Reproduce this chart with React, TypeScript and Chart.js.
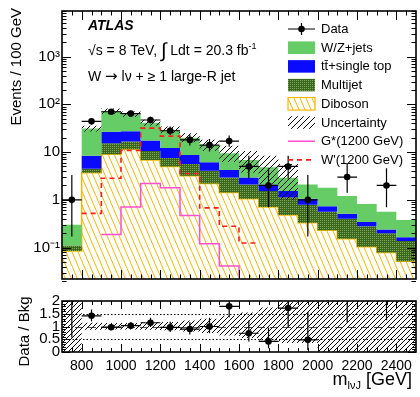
import { useEffect, useRef } from 'react';
import { Chart, registerables } from 'chart.js';

Chart.register(...registerables);

const FONT = '"Liberation Sans", Arial, Helvetica, sans-serif';

// ---- binning ----
const binLow = [700, 800, 900, 1000, 1100, 1200, 1300, 1400, 1500, 1600, 1700, 1800, 1900, 2000, 2100, 2200, 2300, 2400];
const binWidth = 100;
const xMin = 700;
const xMax = 2500;

// ---- data ----
const dataCounts = [1, 44, 70, 64, 47, 28, 18, 14, 17, 5, 2, 5, 1, null, 3, null, 2, null];
const dataErrUp = [2.3, 7.7, 9.4, 9.0, 7.9, 6.3, 5.3, 4.8, 5.2, 3.4, 2.6, 3.4, 2.3, null, 2.9, null, 2.6, null];
const dataErrDown = [0.83, 6.6, 8.4, 8.0, 6.8, 5.3, 4.2, 3.7, 4.1, 2.2, 1.3, 2.2, 0.83, null, 1.6, null, 1.3, null];

// ---- backgrounds (stacked, bottom to top) ----
const diboson = [0.085, 3.7, 9.0, 11.5, 6.8, 5.0, 3.2, 2.2, 1.42, 1.05, 0.71, 0.48, 0.33, 0.23, 0.153, 0.104, 0.079, 0.052];
const multijet = [0.025, 0.8, 6.4, 5.2, 3.7, 2.5, 2.4, 1.85, 1.52, 1.05, 0.83, 0.65, 0.46, 0.33, 0.247, 0.176, 0.121, 0.085];
const ttbarSingleTop = [0.0, 3.9, 11.1, 10.5, 7.0, 4.7, 3.1, 2.05, 1.26, 0.84, 0.56, 0.41, 0.26, 0.17, 0.11, 0.065, 0.04, 0.028];
const wzJets = [0.19, 22.6, 45.5, 34.8, 23.5, 16.8, 11.3, 7.9, 5.3, 3.86, 2.7, 1.36, 1.05, 1.07, 0.69, 0.475, 0.32, 0.215];

// relative background uncertainty
const uncUp = [2.3, 0.15, 0.14, 0.14, 0.16, 0.18, 0.24, 0.3, 0.42, 0.55, 0.75, 0.95, 1.2, 1.5, 1.6, 1.7, 1.8, 1.9];
const uncDown = [1.0, 0.13, 0.12, 0.12, 0.13, 0.15, 0.2, 0.25, 0.35, 0.45, 0.55, 0.65, 0.65, 1.0, 1.0, 1.0, 1.0, 1.0];

// ---- signals ----
const gStar = [0, 0, 0.187, 0.71, 2.19, 1.79, 0.47, 0.12, 0.041, 0.024, 0, 0, 0, 0, 0, 0, 0, 0];
const wPrime = [0, 0.52, 2.84, 10.8, 31.8, 21.6, 3.57, 0.68, 0.28, 0.125, 0.125, 0, 0, 0, 0, 0, 0, 0];

// ---- ticks ----
const xTickValues = [800, 1000, 1200, 1400, 1600, 1800, 2000, 2200, 2400];
const xTickLabels = ['800', '1000', '1200', '1400', '1600', '1800', '2000', '2200', '2400'];
const mainYTicks = [0.1, 1, 10, 100, 1000];
const mainYLabels = ['10\u207B\u00B9', '1', '10', '10\u00B2', '10\u00B3'];
const ratioYTicks = [0, 0.5, 1, 1.5, 2];
const ratioYLabels = ['0', '0.5', '1', '1.5', '2'];

const legendLabels = ['Data', 'W/Z+jets', 'tt\u0304+single top', 'Multijet', 'Diboson', 'Uncertainty', 'G*(1200 GeV)', "W'(1200 GeV)"];

const COLORS = {
  wz: '#66cc66',
  tt: '#0a0aff',
  mjDark: '#3a671b',
  mjLight: '#7da85b',
  dib: '#f4b800',
  gstar: '#ff4fd0',
  wprime: '#ff1a1a',
};

function hatchPattern(ctx: CanvasRenderingContext2D, w: number, h: number, color: string, lw: number, dir: 'back' | 'fwd', bg?: string) {
  const c = document.createElement('canvas');
  c.width = w;
  c.height = h;
  const g = c.getContext('2d')!;
  if (bg) {
    g.fillStyle = bg;
    g.fillRect(0, 0, w, h);
  }
  g.strokeStyle = color;
  g.lineWidth = lw;
  g.beginPath();
  for (const off of [-w, 0, w]) {
    if (dir === 'back') {
      g.moveTo(off, 0);
      g.lineTo(off + w, h);
    } else {
      g.moveTo(off, h);
      g.lineTo(off + w, 0);
    }
  }
  g.stroke();
  return ctx.createPattern(c, 'repeat')!;
}

function dotPattern(ctx: CanvasRenderingContext2D) {
  const c = document.createElement('canvas');
  c.width = 4;
  c.height = 4;
  const g = c.getContext('2d')!;
  g.fillStyle = COLORS.mjDark;
  g.fillRect(0, 0, 4, 4);
  g.fillStyle = COLORS.mjLight;
  g.fillRect(0, 0, 1, 1);
  g.fillRect(2, 2, 1, 1);
  g.fillRect(2, 0, 1, 1);
  g.fillRect(0, 2, 1, 1);
  return ctx.createPattern(c, 'repeat')!;
}

type Part = { t: string; size: number; dy?: number; style?: string; family?: string };
function richText(ctx: CanvasRenderingContext2D, x: number, y: number, parts: Part[], align: 'left' | 'right' = 'left') {
  const fontOf = (p: Part) => `${p.style || ''} ${p.size}px ${p.family || FONT}`;
  let w = 0;
  for (const p of parts) {
    ctx.font = fontOf(p);
    w += ctx.measureText(p.t).width;
  }
  let cx = align === 'right' ? x - w : x;
  ctx.textAlign = 'left';
  ctx.textBaseline = 'alphabetic';
  for (const p of parts) {
    ctx.font = fontOf(p);
    ctx.fillText(p.t, cx, y + (p.dy || 0));
    cx += ctx.measureText(p.t).width;
  }
}

function xMinorValues() {
  const out: number[] = [];
  for (let v = xMin + 50; v < xMax; v += 50) out.push(v);
  return out;
}

function drawFrameAndTicks(chart: any, o: { xMaj: number; xMin: number; yMaj: number; yMin: number; yMajor: number[]; yMinor: number[] }) {
  const { ctx, chartArea: a, scales } = chart;
  const xs = scales.x;
  const ys = scales.y;
  ctx.save();
  ctx.strokeStyle = '#000';
  ctx.lineWidth = 1;
  ctx.beginPath();
  for (const v of xMinorValues()) {
    const px = Math.round(xs.getPixelForValue(v)) + 0.5;
    const L = xTickValues.includes(v) ? o.xMaj : o.xMin;
    ctx.moveTo(px, a.bottom);
    ctx.lineTo(px, a.bottom - L);
    ctx.moveTo(px, a.top);
    ctx.lineTo(px, a.top + L);
  }
  for (const v of o.yMajor) {
    const py = Math.round(ys.getPixelForValue(v)) + 0.5;
    ctx.moveTo(a.left, py);
    ctx.lineTo(a.left + o.yMaj, py);
    ctx.moveTo(a.right, py);
    ctx.lineTo(a.right - o.yMaj, py);
  }
  for (const v of o.yMinor) {
    const py = Math.round(ys.getPixelForValue(v)) + 0.5;
    ctx.moveTo(a.left, py);
    ctx.lineTo(a.left + o.yMin, py);
    ctx.moveTo(a.right, py);
    ctx.lineTo(a.right - o.yMin, py);
  }
  ctx.stroke();
  ctx.lineWidth = 1.6;
  ctx.strokeRect(a.left, a.top, a.right - a.left, a.bottom - a.top);
  ctx.restore();
}

function drawErrorBars(chart: any, vals: (number | null)[], up: (number | null)[], down: (number | null)[]) {
  const { ctx, chartArea: a, scales } = chart;
  const xs = scales.x;
  const ys = scales.y;
  ctx.save();
  ctx.beginPath();
  ctx.rect(a.left, a.top, a.right - a.left, a.bottom - a.top);
  ctx.clip();
  ctx.strokeStyle = '#000';
  ctx.lineWidth = 1.2;
  ctx.beginPath();
  vals.forEach((v, i) => {
    if (v == null) return;
    const xl = xs.getPixelForValue(binLow[i]);
    const xr = xs.getPixelForValue(binLow[i] + binWidth);
    const xc = xs.getPixelForValue(binLow[i] + binWidth / 2);
    const py = ys.getPixelForValue(v);
    ctx.moveTo(xl, py);
    ctx.lineTo(xr, py);
    ctx.moveTo(xc, ys.getPixelForValue(v + (up[i] as number)));
    ctx.lineTo(xc, ys.getPixelForValue(Math.max(v - (down[i] as number), 1e-6)));
  });
  ctx.stroke();
  ctx.restore();
}

export default function App() {
  const mainRef = useRef<HTMLCanvasElement>(null);
  const ratioRef = useRef<HTMLCanvasElement>(null);

  useEffect(() => {
    Chart.defaults.font.family = FONT;
    Chart.defaults.color = '#000';
    const n = binLow.length;
    const lastEdge = binLow[n - 1] + binWidth;
    const step = (vals: number[]) => [...binLow.map((x, i) => ({ x, y: vals[i] })), { x: lastEdge, y: vals[n - 1] }];
    const centers = binLow.map((x) => x + binWidth / 2);

    const topDib = diboson.slice();
    const topMj = topDib.map((v, i) => v + multijet[i]);
    const topTt = topMj.map((v, i) => v + ttbarSingleTop[i]);
    const total = topTt.map((v, i) => v + wzJets[i]);
    const uncHi = total.map((v, i) => v * (1 + uncUp[i]));
    const uncLo = total.map((v, i) => v * (1 - uncDown[i]));

    const mctx = mainRef.current!.getContext('2d')!;
    const yellowHatch = hatchPattern(mctx, 6, 14, COLORS.dib, 1, 'back', '#ffffff');
    const blackHatch = hatchPattern(mctx, 6, 6, '#000000', 1, 'fwd');
    const mjPat = dotPattern(mctx);

    const mainYMinor: number[] = [];
    for (const d of [0.01, 0.1, 1, 10, 100, 1000]) for (const k of [2, 3, 4, 5, 6, 7, 8, 9]) mainYMinor.push(k * d);

    const lineBase = { stepped: true as const, pointRadius: 0, tension: 0 };

    const mainChart = new Chart(mainRef.current!, {
      type: 'line',
      data: {
        datasets: [
          { ...lineBase, data: step(topDib), borderColor: COLORS.dib, borderWidth: 1.5, backgroundColor: yellowHatch, fill: 'start', order: 10 },
          { ...lineBase, data: step(topMj), borderColor: 'transparent', borderWidth: 0, backgroundColor: mjPat, fill: '-1', order: 9 },
          { ...lineBase, data: step(topTt), borderColor: 'transparent', borderWidth: 0, backgroundColor: COLORS.tt, fill: '-1', order: 8 },
          { ...lineBase, data: step(total), borderColor: 'transparent', borderWidth: 0, backgroundColor: COLORS.wz, fill: '-1', order: 7 },
          { ...lineBase, data: step(uncLo), borderColor: 'transparent', borderWidth: 0, fill: false, order: 6 },
          { ...lineBase, data: step(uncHi), borderColor: 'transparent', borderWidth: 0, backgroundColor: blackHatch, fill: '-1', order: 5 },
          { ...lineBase, data: step(gStar), borderColor: COLORS.gstar, borderWidth: 1.5, fill: false, order: 4 },
          { ...lineBase, data: step(wPrime), borderColor: COLORS.wprime, borderWidth: 1.6, borderDash: [5, 4], fill: false, order: 3 },
          {
            data: centers.map((x, i) => ({ x, y: dataCounts[i] as any })),
            showLine: false,
            pointRadius: 3.3,
            pointBackgroundColor: '#000',
            pointBorderWidth: 0,
            fill: false,
            order: 1,
          },
        ],
      },
      options: {
        animation: false,
        responsive: false,
        events: [],
        layout: { padding: { left: 0, right: 2, top: 7, bottom: 0 } },
        plugins: { legend: { display: false }, tooltip: { enabled: false } },
        scales: {
          x: {
            type: 'linear',
            min: xMin,
            max: xMax,
            grid: { display: false, drawTicks: false },
            border: { display: false },
            ticks: { display: false },
            afterFit: (s: any) => {
              s.height = 3;
            },
          },
          y: {
            type: 'logarithmic',
            min: 0.022,
            max: 9000,
            grid: { display: false, drawTicks: false },
            border: { display: false },
            ticks: {
              autoSkip: false,
              padding: 2,
              font: { size: 15 },
              color: '#000',
              callback: (_v: any, i: number) => mainYLabels[i],
            },
            afterBuildTicks: (s: any) => {
              s.ticks = mainYTicks.map((v) => ({ value: v }));
            },
            afterFit: (s: any) => {
              s.width = 62;
            },
          },
        },
      },
      plugins: [
        {
          id: 'mainDeco',
          afterDatasetsDraw(chart: any) {
            drawErrorBars(chart, dataCounts, dataErrUp, dataErrDown);
            drawFrameAndTicks(chart, { xMaj: 9, xMin: 4.5, yMaj: 9, yMin: 4.5, yMajor: mainYTicks, yMinor: mainYMinor });
          },
          afterDraw(chart: any) {
            const ctx = chart.ctx as CanvasRenderingContext2D;
            ctx.save();
            ctx.fillStyle = '#000';
            richText(ctx, 88, 30, [{ t: 'ATLAS', size: 14, style: 'italic bold' }]);
            richText(ctx, 88, 55, [
              { t: '\u221As = 8 TeV, ', size: 14 },
              { t: '\u222B', size: 20, dy: 2 },
              { t: ' Ldt = 20.3 fb', size: 14 },
              { t: '-1', size: 9, dy: -6 },
            ]);
            richText(ctx, 88, 81, [
              { t: 'W ', size: 14 },
              { t: '\u2192', size: 15, family: '"DejaVu Sans", sans-serif' },
              { t: ' l\u03BD + \u2265 1 large-R jet', size: 14 },
            ]);

            // y title
            ctx.save();
            ctx.translate(17, 8);
            ctx.rotate(-Math.PI / 2);
            ctx.font = `15px ${FONT}`;
            ctx.textAlign = 'right';
            ctx.textBaseline = 'middle';
            ctx.fillText('Events / 100 GeV', 0, 0);
            ctx.restore();

            // legend
            const x0 = 288;
            const x1 = 315;
            const tx = 321;
            const rowY = (i: number) => 29 + i * 18.7;
            legendLabels.forEach((lab, i) => {
              const y = rowY(i);
              const bh = 12.5;
              if (i === 0) {
                ctx.strokeStyle = '#000';
                ctx.lineWidth = 1.2;
                ctx.beginPath();
                ctx.moveTo(x0, y);
                ctx.lineTo(x1, y);
                ctx.moveTo((x0 + x1) / 2, y - 6);
                ctx.lineTo((x0 + x1) / 2, y + 6);
                ctx.stroke();
                ctx.beginPath();
                ctx.fillStyle = '#000';
                ctx.arc((x0 + x1) / 2, y, 3.3, 0, Math.PI * 2);
                ctx.fill();
              } else if (i === 1 || i === 2 || i === 3) {
                ctx.fillStyle = i === 1 ? COLORS.wz : i === 2 ? COLORS.tt : mjPat;
                ctx.fillRect(x0, y - bh / 2, x1 - x0, bh);
              } else if (i === 4) {
                ctx.fillStyle = yellowHatch;
                ctx.fillRect(x0, y - bh / 2, x1 - x0, bh);
                ctx.strokeStyle = COLORS.dib;
                ctx.lineWidth = 1.2;
                ctx.strokeRect(x0, y - bh / 2, x1 - x0, bh);
              } else if (i === 5) {
                ctx.fillStyle = blackHatch;
                ctx.fillRect(x0, y - bh / 2, x1 - x0, bh);
              } else if (i === 6) {
                ctx.strokeStyle = COLORS.gstar;
                ctx.lineWidth = 1.5;
                ctx.beginPath();
                ctx.moveTo(x0, y);
                ctx.lineTo(x1, y);
                ctx.stroke();
              } else {
                ctx.strokeStyle = COLORS.wprime;
                ctx.lineWidth = 1.6;
                ctx.setLineDash([5, 4]);
                ctx.beginPath();
                ctx.moveTo(x0, y);
                ctx.lineTo(x1, y);
                ctx.stroke();
                ctx.setLineDash([]);
              }
              ctx.fillStyle = '#000';
              ctx.font = `13px ${FONT}`;
              ctx.textAlign = 'left';
              ctx.textBaseline = 'middle';
              ctx.fillText(lab, tx, y + 0.5);
            });
            ctx.restore();
          },
        },
      ],
    } as any);

    // ---- ratio panel ----
    const rctx = ratioRef.current!.getContext('2d')!;
    const ratioHatch = hatchPattern(rctx, 5, 5, '#000000', 1, 'fwd');
    const ratio = dataCounts.map((v, i) => (v == null ? null : v / total[i]));
    const ratioUp = dataErrUp.map((v, i) => (v == null ? null : v / total[i]));
    const ratioDown = dataErrDown.map((v, i) => (v == null ? null : v / total[i]));
    const ratioMinor = [0.1, 0.2, 0.3, 0.4, 0.6, 0.7, 0.8, 0.9, 1.1, 1.2, 1.3, 1.4, 1.6, 1.7, 1.8, 1.9];

    const ratioChart = new Chart(ratioRef.current!, {
      type: 'line',
      data: {
        datasets: [
          { ...lineBase, data: step(uncDown.map((d) => 1 - d)), borderColor: 'transparent', borderWidth: 0, fill: false, order: 6 },
          { ...lineBase, data: step(uncUp.map((u) => 1 + u)), borderColor: 'transparent', borderWidth: 0, backgroundColor: ratioHatch, fill: '-1', order: 5 },
          {
            data: centers.map((x, i) => ({ x, y: ratio[i] as any })),
            showLine: false,
            pointRadius: 3.3,
            pointBackgroundColor: '#000',
            pointBorderWidth: 0,
            fill: false,
            order: 1,
          },
        ],
      },
      options: {
        animation: false,
        responsive: false,
        events: [],
        layout: { padding: { left: 0, right: 2, top: 8, bottom: 0 } },
        plugins: { legend: { display: false }, tooltip: { enabled: false } },
        scales: {
          x: {
            type: 'linear',
            min: xMin,
            max: xMax,
            grid: { display: false, drawTicks: false },
            border: { display: false },
            ticks: {
              autoSkip: false,
              maxRotation: 0,
              padding: 6,
              font: { size: 14 },
              color: '#000',
              callback: (_v: any, i: number) => xTickLabels[i],
            },
            afterBuildTicks: (s: any) => {
              s.ticks = xTickValues.map((v) => ({ value: v }));
            },
            afterFit: (s: any) => {
              s.height = 45;
            },
          },
          y: {
            type: 'linear',
            min: 0,
            max: 2,
            grid: { display: false, drawTicks: false },
            border: { display: false },
            ticks: {
              autoSkip: false,
              padding: 2,
              font: { size: 15 },
              color: '#000',
              callback: (_v: any, i: number) => ratioYLabels[i],
            },
            afterBuildTicks: (s: any) => {
              s.ticks = ratioYTicks.map((v) => ({ value: v }));
            },
            afterFit: (s: any) => {
              s.width = 62;
            },
          },
        },
      },
      plugins: [
        {
          id: 'ratioDeco',
          beforeDatasetsDraw(chart: any) {
            const { ctx, chartArea: a, scales } = chart;
            ctx.save();
            ctx.strokeStyle = '#000';
            ctx.lineWidth = 1;
            ctx.setLineDash([1.5, 2]);
            ctx.beginPath();
            for (const v of [0.5, 1.5]) {
              const py = Math.round(scales.y.getPixelForValue(v)) + 0.5;
              ctx.moveTo(a.left, py);
              ctx.lineTo(a.right, py);
            }
            ctx.stroke();
            ctx.strokeStyle = '#555';
            ctx.setLineDash([8, 5]);
            ctx.beginPath();
            const p1 = Math.round(scales.y.getPixelForValue(1)) + 0.5;
            ctx.moveTo(a.left, p1);
            ctx.lineTo(a.right, p1);
            ctx.stroke();
            ctx.restore();
          },
          afterDatasetsDraw(chart: any) {
            drawErrorBars(chart, ratio, ratioUp, ratioDown);
            drawFrameAndTicks(chart, { xMaj: 8, xMin: 4, yMaj: 8, yMin: 4, yMajor: ratioYTicks, yMinor: ratioMinor });
          },
          afterDraw(chart: any) {
            const ctx = chart.ctx as CanvasRenderingContext2D;
            ctx.save();
            ctx.fillStyle = '#000';
            ctx.translate(25, 41.5);
            ctx.rotate(-Math.PI / 2);
            ctx.font = `15px ${FONT}`;
            ctx.textAlign = 'center';
            ctx.textBaseline = 'middle';
            ctx.fillText('Data / Bkg', 0, 0);
            ctx.restore();
            ctx.save();
            ctx.fillStyle = '#000';
            richText(
              ctx,
              412,
              95,
              [
                { t: 'm', size: 18 },
                { t: 'l\u03BDJ', size: 11, dy: 4 },
                { t: ' [GeV]', size: 18 },
              ],
              'right',
            );
            ctx.restore();
          },
        },
      ],
    } as any);

    return () => {
      mainChart.destroy();
      ratioChart.destroy();
    };
  }, []);

  return (
    <div style={{ position: 'fixed', left: 0, top: 0, width: 420, height: 397, background: '#fff' }}>
      <canvas ref={mainRef} width={420} height={290} style={{ position: 'absolute', left: 0, top: 0, width: 420, height: 290 }} />
      <canvas ref={ratioRef} width={420} height={107} style={{ position: 'absolute', left: 0, top: 290, width: 420, height: 107 }} />
    </div>
  );
}
